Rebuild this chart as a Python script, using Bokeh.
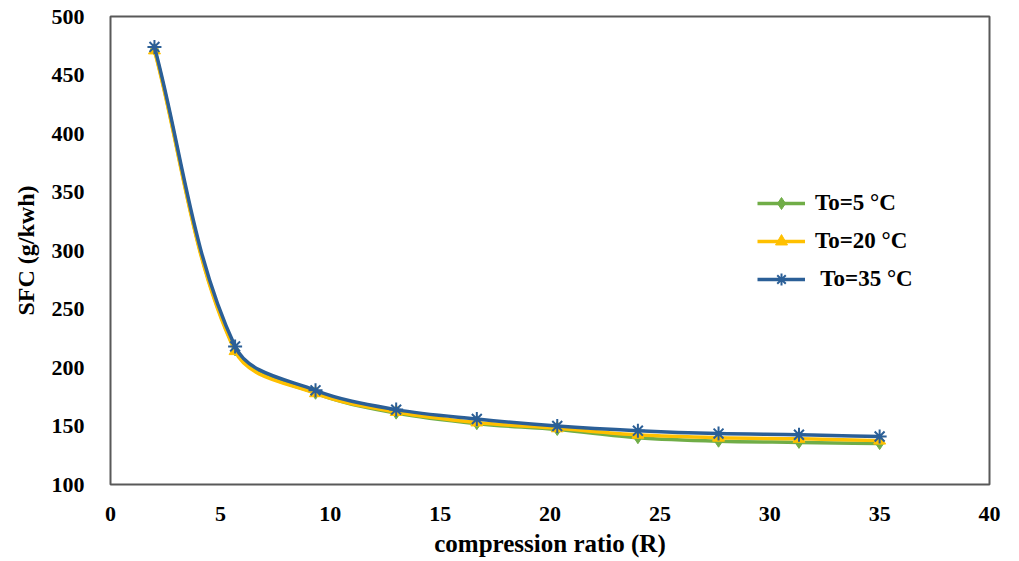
import math
from bokeh.plotting import figure
from bokeh.models import Legend, LegendItem, Range1d, FixedTicker, ColumnDataSource
from bokeh.embed import file_html
from bokeh.resources import INLINE

# ---- data ----
compression_ratio = [2.0, 5.67, 9.33, 13.0, 16.67, 20.33, 24.0, 27.67, 31.33, 35.0]
sfc_to5 = [472, 215, 178, 161, 152, 147, 140, 137, 136, 135]
sfc_to20 = [471, 214, 178, 162, 153, 148, 142.5, 140, 139, 137.5]
sfc_to35 = [474, 218, 180.5, 164, 156, 150, 146, 143.5, 142.5, 141]
series_labels = ["To=5 °C", "To=20 °C", " To=35 °C"]
x_ticks = [0, 5, 10, 15, 20, 25, 30, 35, 40]
y_ticks = [100, 150, 200, 250, 300, 350, 400, 450, 500]

FONT = "Liberation Serif"
X0, X1, Y0, Y1 = 0, 40, 100, 500
FRAME_W, FRAME_H = 879, 468

p = figure(width=1012, height=561, output_backend="svg", toolbar_location=None,
           x_range=Range1d(X0, X1), y_range=Range1d(Y0, Y1),
           min_border_left=110, min_border_right=23, min_border_top=16, min_border_bottom=77)
p.xgrid.visible = False
p.ygrid.visible = False
p.outline_line_color = "#595959"
p.outline_line_width = 2
p.background_fill_color = "white"
p.border_fill_color = "white"

for ax, ticks in ((p.xaxis[0], x_ticks), (p.yaxis[0], y_ticks)):
    ax.ticker = FixedTicker(ticks=ticks)
    ax.axis_line_color = None
    ax.major_tick_line_color = None
    ax.minor_tick_line_color = None
    ax.major_tick_out = 0
    ax.major_tick_in = 0
    ax.major_label_text_font = FONT
    ax.major_label_text_font_style = "bold"
    ax.major_label_text_font_size = "22px"
    ax.major_label_text_color = "black"
    ax.axis_label_text_font = FONT
    ax.axis_label_text_font_style = "bold"
    ax.axis_label_text_color = "black"

p.xaxis.axis_label = "compression ratio (R)"
p.yaxis.axis_label = "SFC (g/kwh)"
p.xaxis.axis_label_text_font_size = "25px"
p.yaxis.axis_label_text_font_size = "24px"
p.xaxis.major_label_standoff = 22
p.xaxis.axis_label_standoff = 6
p.yaxis.major_label_standoff = 26
p.yaxis.axis_label_standoff = 10


def smooth_segments(xs, ys):
    # smoothed-line rendering: cubic Bezier pieces through the data points,
    # tangent direction from neighbours, handle length = 1/3 of the chord (screen space)
    kx = FRAME_W / (X1 - X0)
    ky = FRAME_H / (Y1 - Y0)
    px = [v * kx for v in xs]
    py = [v * ky for v in ys]
    n = len(xs)

    def tangent(i):
        a = max(i - 1, 0)
        b = min(i + 1, n - 1)
        dx, dy = px[b] - px[a], py[b] - py[a]
        L = math.hypot(dx, dy)
        return dx / L, dy / L

    cols = {k: [] for k in ("x0", "y0", "x1", "y1", "cx0", "cy0", "cx1", "cy1")}
    for i in range(n - 1):
        chord = math.hypot(px[i + 1] - px[i], py[i + 1] - py[i]) / 3.0
        t0 = tangent(i)
        t1 = tangent(i + 1)
        cols["x0"].append(xs[i]); cols["y0"].append(ys[i])
        cols["x1"].append(xs[i + 1]); cols["y1"].append(ys[i + 1])
        cols["cx0"].append((px[i] + t0[0] * chord) / kx)
        cols["cy0"].append((py[i] + t0[1] * chord) / ky)
        cols["cx1"].append((px[i + 1] - t1[0] * chord) / kx)
        cols["cy1"].append((py[i + 1] - t1[1] * chord) / ky)
    return ColumnDataSource(cols)


colors = ["#70AD47", "#FFC000", "#2B5F97"]
markers = ["diamond", "triangle", "asterisk"]
series = [sfc_to5, sfc_to20, sfc_to35]
items = []
for ys, col, mk, lab in zip(series, colors, markers, series_labels):
    src = smooth_segments(compression_ratio, ys)
    p.bezier(x0="x0", y0="y0", x1="x1", y1="y1", cx0="cx0", cy0="cy0",
             cx1="cx1", cy1="cy1", source=src, line_color=col, line_width=3.5)
    leg_line = p.line([float("nan")], [float("nan")], line_color=col, line_width=3.5)
    if mk == "asterisk":
        mr = p.scatter(compression_ratio, ys, marker=mk, size=14, line_color=col,
                       line_width=2, fill_color=col)
    else:
        mr = p.scatter(compression_ratio, ys, marker=mk, size=12, line_color=col,
                       fill_color=col)
    items.append(LegendItem(label=lab, renderers=[leg_line, mr]))

legend = Legend(items=items, location=(647, 190), orientation="vertical",
                label_text_font=FONT, label_text_font_style="bold",
                label_text_font_size="23px", label_text_color="black",
                glyph_width=48, glyph_height=30, label_height=20, spacing=8,
                padding=0, margin=0, label_standoff=10,
                border_line_color=None, background_fill_alpha=0)
p.add_layout(legend, "center")

open("out.html", "w").write(file_html(p, INLINE))
